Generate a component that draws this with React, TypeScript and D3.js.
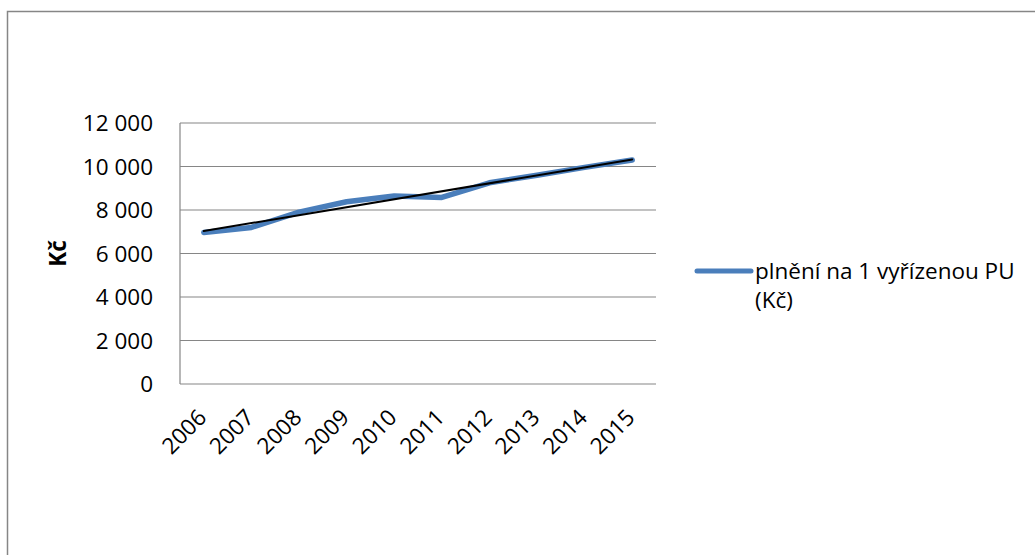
import React from "react";
import * as d3 from "d3";

// Average payout per settled insured event (Kč), 2006–2015
const years: string[] = ["2006", "2007", "2008", "2009", "2010", "2011", "2012", "2013", "2014", "2015"];
const payout: number[] = [6970, 7200, 7900, 8380, 8640, 8580, 9250, 9600, 9960, 10300];
const yTicks: number[] = [0, 2000, 4000, 6000, 8000, 10000, 12000];
const seriesName: string[] = ["plnění na 1 vyřízenou PU", "(Kč)"];
const yTitle = "Kč";

const W = 1035;
const H = 555;
const plot = { left: 180, right: 656, top: 123, bottom: 384 };
const FONT = "'Open Sans', 'Liberation Sans', sans-serif";
const FS = 22.5;
const GRID = "#868686";
const BLUE = "#4A7EBB";

export default function App() {
  const x = d3.scaleBand<string>().domain(years).range([plot.left, plot.right]);
  const cx = (yr: string) => (x(yr) ?? 0) + x.bandwidth() / 2;
  const y = d3.scaleLinear().domain([0, 12000]).range([plot.bottom, plot.top]);

  const fmt = (v: number) => d3.format(",")(v).replace(/,/g, " ");

  const line = d3
    .line<number>()
    .x((_, i) => cx(years[i]))
    .y((d) => y(d));

  // Least-squares linear trend over the series
  const xs = payout.map((_, i) => i);
  const mx = d3.mean(xs) as number;
  const my = d3.mean(payout) as number;
  const slope =
    d3.sum(xs.map((xi, i) => (xi - mx) * (payout[i] - my))) /
    d3.sum(xs.map((xi) => (xi - mx) ** 2));
  const icpt = my - slope * mx;
  const trend = [icpt, icpt + slope * (years.length - 1)];
  const trendPts: [number, number][] = [
    [cx(years[0]), y(trend[0])],
    [cx(years[years.length - 1]), y(trend[1])],
  ];

  return (
    <svg
      width={W}
      height={H}
      style={{ position: "absolute", left: 0, top: 0, background: "#fff" }}
      fontFamily={FONT}
    >
      {/* chart frame */}
      <rect x={7.5} y={11.5} width={W + 10} height={H + 10} fill="none" stroke={GRID} strokeWidth={1.5} />

      {/* gridlines */}
      {yTicks.map((t) => (
        <line key={t} x1={plot.left} x2={plot.right} y1={y(t)} y2={y(t)} stroke={GRID} strokeWidth={1.2} />
      ))}
      <line x1={plot.left} x2={plot.left} y1={plot.top} y2={plot.bottom} stroke={GRID} strokeWidth={1.2} />

      {/* y tick labels */}
      {yTicks.map((t) => (
        <text key={t} x={153} y={y(t) + 8} textAnchor="end" fontSize={FS} fill="#000">
          {fmt(t)}
        </text>
      ))}

      {/* y axis title */}
      <text
        transform={`translate(66, ${(plot.top + plot.bottom) / 2}) rotate(-90)`}
        textAnchor="middle"
        fontSize={FS}
        fontWeight="bold"
        fill="#000"
      >
        {yTitle}
      </text>

      {/* x tick labels */}
      {years.map((yr) => (
        <text
          key={yr}
          transform={`translate(${cx(yr) + 4}, 419) rotate(-45)`}
          textAnchor="end"
          fontSize={FS}
          fill="#000"
        >
          {yr}
        </text>
      ))}

      {/* data series */}
      <path d={line(payout) ?? ""} fill="none" stroke={BLUE} strokeWidth={5.5} strokeLinejoin="round" strokeLinecap="round" />

      {/* trend line */}
      <line
        x1={trendPts[0][0]}
        y1={trendPts[0][1]}
        x2={trendPts[1][0]}
        y2={trendPts[1][1]}
        stroke="#000"
        strokeWidth={2}
        strokeLinecap="round"
      />

      {/* legend */}
      <line x1={697} x2={751} y1={271} y2={271} stroke={BLUE} strokeWidth={5} strokeLinecap="round" />
      {seriesName.map((s, i) => (
        <text key={i} x={755} y={279 + i * 29} fontSize={FS} fill="#000">
          {s}
        </text>
      ))}
    </svg>
  );
}
